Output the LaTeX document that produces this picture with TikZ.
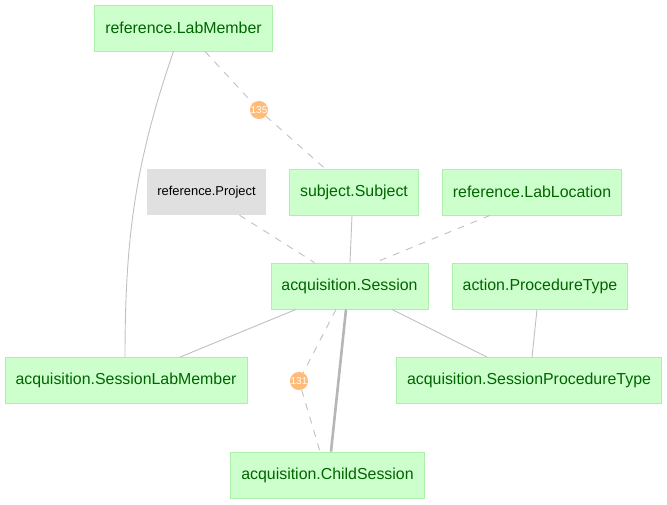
\documentclass[tikz,border=0pt]{standalone}
\usepackage{fontspec}
\setmainfont{Liberation Sans}
\usepackage{tikz}
\usetikzlibrary{positioning}
\definecolor{tblfill}{RGB}{204, 255, 204}
\definecolor{tbldraw}{RGB}{172, 240, 172}
\definecolor{tbltext}{RGB}{0, 100, 0}
\definecolor{extfill}{RGB}{224, 224, 224}
\definecolor{partfill}{RGB}{255, 187, 119}
\definecolor{edgegray}{RGB}{192, 192, 192}
\tikzstyle{tbl} = [rectangle, draw=tbldraw, line width=0.8pt, fill=tblfill, text=tbltext, font=\fontsize{15.9}{18}\selectfont, inner xsep=10.5pt, minimum height=46pt]
\tikzstyle{exttbl} = [rectangle, draw=none, fill=extfill, text=black, font=\fontsize{12.9}{15}\selectfont, inner xsep=10pt, minimum height=46pt, minimum width=119pt]
\tikzstyle{part} = [circle, draw=none, fill=partfill, text=white, font=\fontsize{10}{11}\selectfont, inner sep=0pt, minimum size=18pt]
\tikzstyle{tedge}  = [draw=edgegray, line width=0.9pt]
\tikzstyle{dedge}  = [draw=edgegray, line width=0.9pt, dash pattern=on 7pt off 7pt]
\tikzstyle{pedge}  = [draw=edgegray!95!black, line width=2.6pt]

\begin{document}
\begin{tikzpicture}[x=1pt, y=-1pt]
\useasboundingbox (0,0) rectangle (667,505);

% tables =============================

% top row
\node[tbl] (labmember) at (183.5,28) {reference.LabMember};
\node[part] (p135) at (259,110) {135};

% second row
\node[exttbl] (project) at (206.5,192) {reference.Project};
\node[tbl] (subject) at (354,192) {subject.Subject};
\node[tbl] (lablocation) at (532,192) {reference.LabLocation};

% third row
\node[tbl] (session) at (349.5,286) {acquisition.Session};
\node[tbl] (proctype) at (540,286) {action.ProcedureType};

% fourth row
\node[tbl] (sesslabmember) at (126,380.5) {acquisition.SessionLabMember};
\node[tbl] (sessproctype) at (529,380.5) {acquisition.SessionProcedureType};
\node[part] (p131) at (299,381) {131};

% bottom
\node[tbl] (childsession) at (327.5,475) {acquisition.ChildSession};

%edges
\path[tedge] ([xshift=-10pt]labmember.south) .. controls +(-38,110) and +(0,-120) .. ([xshift=-1pt]sesslabmember.north);
\path[dedge] ([xshift=21.5pt]labmember.south) -- (p135);
\path[dedge] (p135) -- ([xshift=-29pt]subject.north);

\path[dedge] ([xshift=33pt]project.south) -- ([xshift=-35pt]session.north);
\path[tedge] ([xshift=-2pt]subject.south) -- ([xshift=0.5pt]session.north);
\path[dedge] ([xshift=-42pt]lablocation.south) -- ([xshift=25.5pt]session.north);

\path[tedge] ([xshift=-53.5pt]session.south) -- ([xshift=54pt]sesslabmember.north);
\path[tedge] ([xshift=42.5pt]session.south) -- ([xshift=-42pt]sessproctype.north);
\path[tedge] ([xshift=-3pt]proctype.south) -- ([xshift=3pt]sessproctype.north);

\path[dedge] ([xshift=-13.5pt]session.south) -- (p131);
\path[dedge] (p131) -- ([xshift=-7.5pt]childsession.north);
\path[pedge] ([xshift=-3.5pt]session.south) -- ([xshift=3.5pt]childsession.north);

\end{tikzpicture}
\end{document}
